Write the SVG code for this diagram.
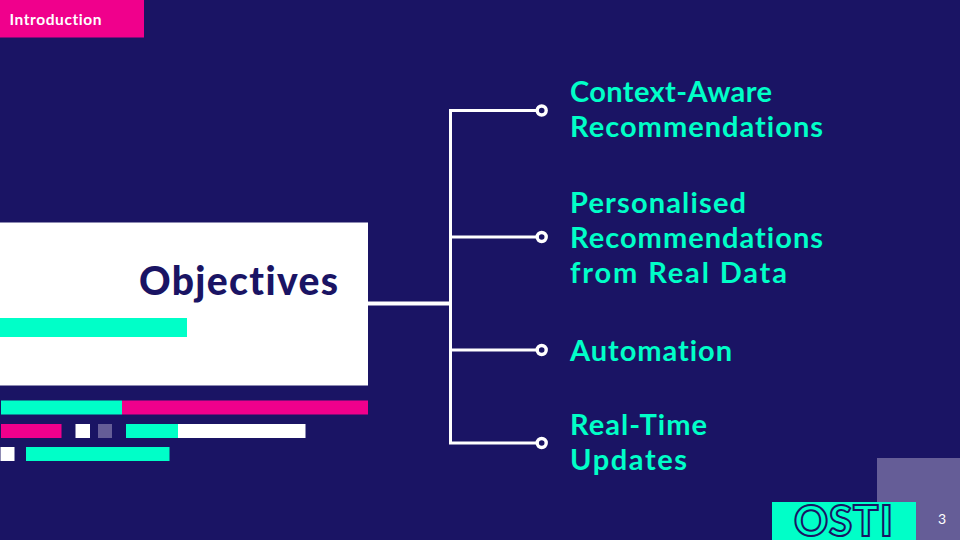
<svg xmlns="http://www.w3.org/2000/svg" width="960" height="540" viewBox="0 0 960 540">
<style>
text{font-variant-ligatures:none}
.t{font-family:"Lato","Liberation Sans",sans-serif;font-weight:700}
.lab{font-size:29px;fill:#00ffc8}
.teal{fill:#00ffc8}.pink{fill:#f0008c}.white{fill:#fff}.mute{fill:#655d97}
.wire{fill:none;stroke:#fff;stroke-width:3}
.dot{fill:#1a1464;stroke:#fff;stroke-width:3.4}
</style>
<rect width="960" height="540" fill="#1a1464"/>
<g id="header"><rect class="pink" width="144" height="37.5"/><text class="t" x="9.5" y="25" font-size="15.5" fill="#fff" textLength="92">Introduction</text></g>
<g id="decor">
<rect class="teal" x="1" y="400.5" width="121" height="14"/><rect class="pink" x="122" y="400.5" width="246" height="14"/>
<rect class="pink" x="1" y="424" width="60.5" height="14"/><rect class="white" x="75.5" y="424" width="14.5" height="14"/><rect class="mute" x="98" y="424" width="14" height="14"/>
<rect class="teal" x="126" y="424" width="52" height="14"/><rect class="white" x="178" y="424" width="127.5" height="14"/>
<rect class="white" x=".5" y="447" width="14" height="14"/><rect class="teal" x="26" y="447" width="143.5" height="14"/>
</g>
<g id="objectives"><rect class="white" y="222.5" width="368" height="163"/><rect class="teal" y="318" width="187" height="19"/>
<text class="t" x="139" y="295" font-size="39" style="font-weight:900" fill="#1a1464" textLength="199">Objectives</text></g>
<g id="connectors">
<path class="wire" d="M450.5 109V443M449 110.5H536M450.5 237H536M450.5 350H536M449 443H536"/>
<path class="wire" style="stroke-width:4" d="M368 303.5H450"/>
<circle class="dot" cx="541.7" cy="110.5" r="4.5"/><circle class="dot" cx="541.7" cy="237" r="4.5"/><circle class="dot" cx="541.7" cy="350" r="4.5"/><circle class="dot" cx="541.7" cy="443" r="4.5"/>
</g>
<g id="n1"><text class="t lab" x="570" y="102" textLength="202">Context-Aware</text><text class="t lab" x="570" y="137" textLength="253">Recommendations</text></g>
<g id="n2"><text class="t lab" x="570" y="213" textLength="176">Personalised</text><text class="t lab" x="570" y="248" textLength="253">Recommendations</text><text class="t lab" x="570" y="283" textLength="217">from Real Data</text></g>
<g id="n3"><text class="t lab" x="570" y="361" textLength="162">Automation</text></g>
<g id="n4"><text class="t lab" x="570" y="435" textLength="137">Real-Time</text><text class="t lab" x="570" y="470" textLength="117">Updates</text></g>
<g id="footer"><rect class="mute" x="877" y="458" width="83" height="82"/><rect class="teal" x="772" y="502" width="144" height="38"/>
<text x="794 829 853 880" y="536" font-family="Lato,sans-serif" font-size="42" font-weight="900" fill="none" stroke="#1a1464" stroke-width="2">OSTI</text>
<text x="942" y="524" text-anchor="middle" font-family="Lato,sans-serif" font-size="14" fill="#fff">3</text></g>
</svg>
